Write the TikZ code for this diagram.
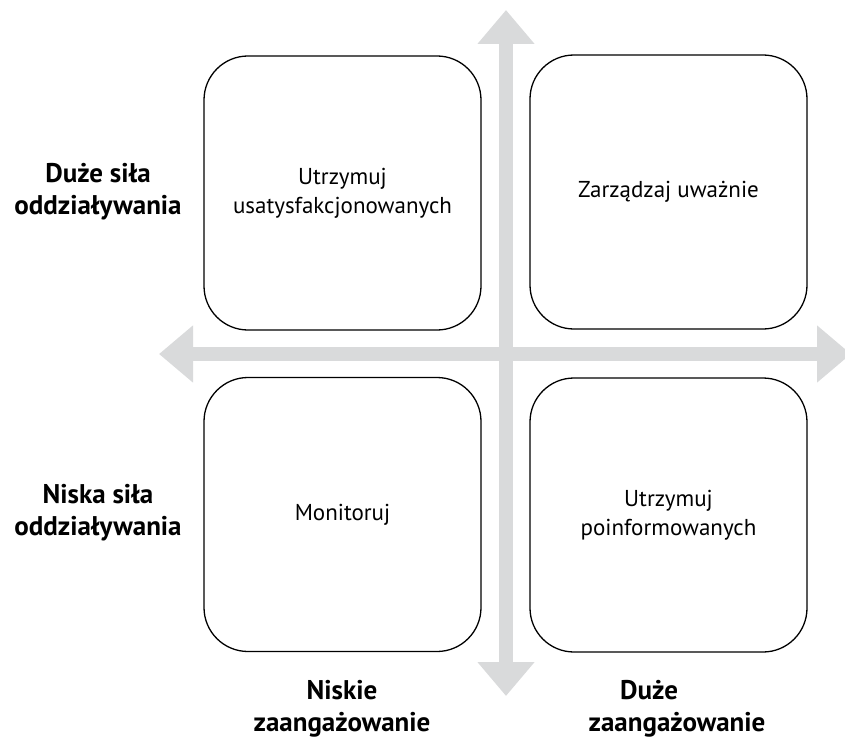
\documentclass[tikz,border=0pt]{standalone}
\usepackage{fontspec}
\setmainfont{PT Sans}
\usetikzlibrary{arrows.meta}
\definecolor{axisgray}{HTML}{D9DADB}
\tikzset{
  quad/.style={draw=black, line width=1.3pt, rounded corners=44pt,
    minimum width=277pt, minimum height=274pt, inner sep=0pt,
    align=center, font=\fontsize{23}{29}\selectfont},
  axis/.style={draw=axisgray, line width=14pt,
    arrows={Triangle[length=34pt,width=55pt,fill=axisgray]-Triangle[length=34pt,width=55pt,fill=axisgray]}},
  axlabel/.style={align=center, inner sep=0pt, font=\fontsize{27}{32}\selectfont\bfseries}
}
\begin{document}
\begin{tikzpicture}[x=1pt,y=-1pt]
  \useasboundingbox (0,0) rectangle (845,738);
  \clip (0,0) rectangle (845,738);
  % axis end points
  \coordinate (vtop) at (506,10);
  \coordinate (vbot) at (506,696);
  \coordinate (hleft) at (159,354);
  \coordinate (hright) at (851,354);
  % the two axes
  \draw[axis] (vbot) -- (vtop);
  \draw[axis] (hleft) -- (hright);
  % the four quadrants
  \node[quad] (tl) at (342.5,193) {Utrzymuj\\usatysfakcjonowanych};
  \node[quad] (tr) at (668.5,192) {Zarządzaj uważnie};
  \node[quad] (bl) at (342.5,514.5) {Monitoruj};
  \node[quad] (br) at (668.5,515) {Utrzymuj\\poinformowanych};
  % axis labels
  \node[axlabel] (hi) at (98,192) {Duże siła\\oddziaływania};
  \node[axlabel] (lo) at (98,513) {Niska siła\\oddziaływania};
  \node[axlabel] (lowe) at (342,709) {Niskie\\zaangażowanie};
  \node[axlabel] (hiwe) at (677,709) {\hspace*{-56pt}Duże\\zaangażowanie};
\end{tikzpicture}
\end{document}
